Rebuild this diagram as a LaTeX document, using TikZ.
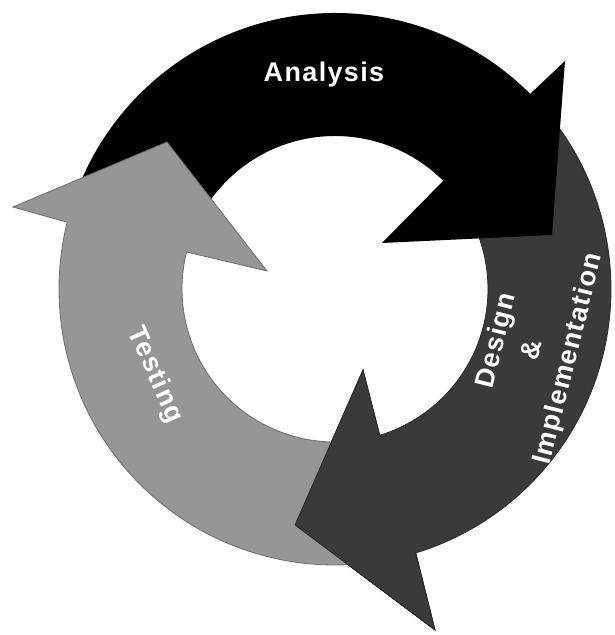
\documentclass[tikz,border=0pt]{standalone}
\usepackage{fontspec}
\setmainfont{Liberation Sans}
\definecolor{dgray}{RGB}{58,58,58}
\definecolor{lgray}{RGB}{150,150,150}
\definecolor{lgedge}{RGB}{110,110,110}
\definecolor{dgedge}{RGB}{40,40,40}
\begin{document}
\begin{tikzpicture}[x=1pt,y=1pt,
  lbl/.style={text=white,font=\bfseries\fontsize{27}{37}\selectfont\addfontfeature{LetterSpace=5},inner sep=0pt,align=center},
  dgarrow/.style={fill=dgray,draw=dgedge,line width=0.8pt,line join=miter},
  blkarrow/.style={fill=black},
  lgarrow/.style={fill=lgray,draw=lgedge,line width=0.8pt,line join=miter}]
\fill[white] (0,0) rectangle (614,635);
\useasboundingbox (0,0) rectangle (614,635);
\begin{scope}[shift={(335,346)}]
  % Design & Implementation arrow (dark gray)
  \path[dgarrow] (38:276) arc[start angle=38,end angle=-73,radius=276]
     -- (100,-341) -- (-40,-236) -- (28,-81) -- (-73:153)
     arc[start angle=-73,end angle=38,radius=153] -- cycle;
  % Analysis arrow (black)
  \path[blkarrow] (160:276) arc[start angle=160,end angle=45,radius=276]
     -- (230,228) -- (217,54) -- (47,46) -- (45:153)
     arc[start angle=45,end angle=160,radius=153] -- cycle;
  % Testing arrow (light gray)
  \path[lgarrow] (280:276) arc[start angle=280,end angle=166,radius=276]
     -- (-322,82) -- (-168,147) -- (-68,18) -- (166:153)
     arc[start angle=166,end angle=280,radius=153] -- cycle;
  % dark gray head on top of the light gray tail
  \fill[dgray] (-73:276) -- (100,-341) -- (-40,-236) -- (28,-81) -- (-73:153) -- cycle;
  \draw[dgedge,line width=0.8pt,line join=miter] (-73:276) -- (100,-341) -- (-40,-236) -- (28,-81) -- (-73:153);
\end{scope}
\node[lbl] (analysis) at (324,560) {Analysis};
\node[lbl,rotate=-66] (testing) at (155,260) {Testing};
\node[lbl,rotate=76] (design) at (533,285) {Design\\\&\\Implementation};
\end{tikzpicture}
\end{document}
